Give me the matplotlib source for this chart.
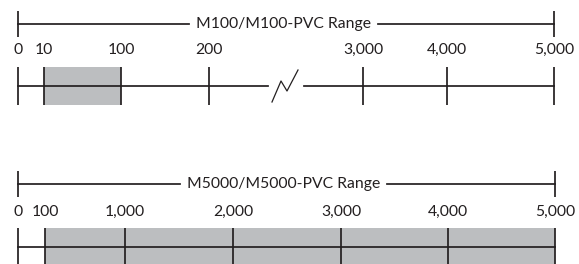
import numpy as np
import matplotlib.pyplot as plt

# ---- data ----
top_title = "M100/M100-PVC Range"
top_values = [0, 10, 100, 200, 3000, 4000, 5000]
top_labels = ["0", "10", "100", "200", "3,000", "4,000", "5,000"]
top_range = (10, 100)

bot_title = "M5000/M5000-PVC Range"
bot_values = [0, 100, 1000, 2000, 3000, 4000, 5000]
bot_labels = ["0", "100", "1,000", "2,000", "3,000", "4,000", "5,000"]
bot_range = (100, 5000)

# schematic (non linear) placement of the scale values, in pixels
top_pos = [18, 44, 121, 209, 363, 447, 554]
bot_pos = [18, 45, 125, 233, 341, 448, 555]

INK = "#231f20"
FILL = "#bcbec0"
LW = 1.25
FONT = "Lato"

fig = plt.figure(figsize=(5.79, 2.64), dpi=100)
ax = fig.add_axes([0, 0, 1, 1])
ax.set_xlim(0, 579)
ax.set_ylim(264, 0)
ax.axis("off")


def bracket(y, title, x0, x1):
    ax.plot([x0, x0], [y - 13, y + 13], color=INK, lw=LW, solid_capstyle="butt")
    ax.plot([x1, x1], [y - 13, y + 13], color=INK, lw=LW, solid_capstyle="butt")
    t = ax.text((x0 + x1) / 2 - 3, y, title, ha="center", va="center",
                fontsize=11.3, family=FONT, color=INK)
    fig.canvas.draw()
    bb = t.get_window_extent().transformed(ax.transData.inverted())
    ax.plot([x0, bb.x0 - 7], [y, y], color=INK, lw=LW)
    ax.plot([bb.x1 + 7, x1], [y, y], color=INK, lw=LW)


def scale(values, labels, pos, rng, ylab, yline, ytop, ybot, brk=None):
    f = lambda v: np.interp(v, values, pos)
    x0, x1 = f(rng[0]), f(rng[1])
    ax.fill_between([x0, x1], ytop, ybot, color=FILL, lw=0, zorder=1)
    if brk is None:
        ax.plot([pos[0], pos[-1]], [yline, yline], color=INK, lw=LW, zorder=3)
    else:
        ax.plot([pos[0], brk[0]], [yline, yline], color=INK, lw=LW, zorder=3)
        ax.plot([brk[1], pos[-1]], [yline, yline], color=INK, lw=LW, zorder=3)
    for v, lab in zip(values, labels):
        ax.plot([f(v), f(v)], [ytop, ybot], color=INK, lw=LW, zorder=3,
                solid_capstyle="butt")
        ax.text(f(v), ylab, lab, ha="center", va="center", fontsize=11.3,
                family=FONT, color=INK)


# top scale
bracket(24, top_title, top_pos[0], top_pos[-1])
scale(top_values, top_labels, top_pos, top_range, 50, 86, 67, 105, brk=(268, 304))
ax.plot([272, 281, 287, 298], [102, 81, 91, 70], color=INK, lw=0.9)

# bottom scale
bracket(184, bot_title, bot_pos[0], bot_pos[-1])
scale(bot_values, bot_labels, bot_pos, bot_range, 212, 247, 228, 266)

fig.savefig("out.png", dpi=100)
